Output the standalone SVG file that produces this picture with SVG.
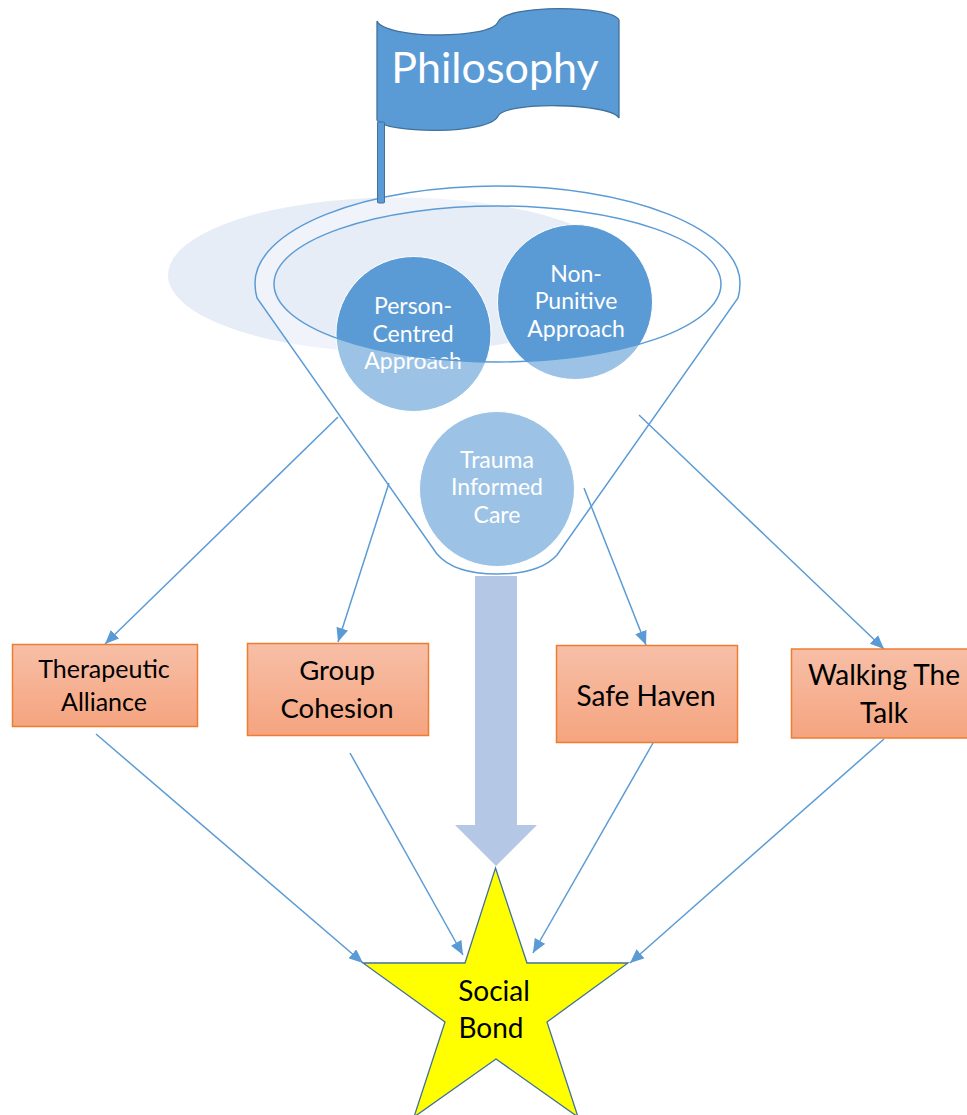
<svg xmlns="http://www.w3.org/2000/svg" width="967" height="1115" viewBox="0 0 967 1115">
<style>
text{font-family:"Lato","Noto Sans","Liberation Sans",sans-serif;text-anchor:middle}
.w{fill:#fff;font-size:23px}
.k{fill:#000;font-size:28px}
.c{fill:#5B9BD5;stroke:#fff;stroke-width:1}
.r{fill:url(#g);stroke:#ED7D31;stroke-width:1.500}
.l{fill:none;stroke:#5B9BD5;stroke-width:1.500;marker-end:url(#a)}
</style>
<defs>
<linearGradient id="g" x1="0" y1="0" x2="0" y2="1"><stop offset="0" stop-color="#F7BFA7"/><stop offset="1" stop-color="#F5A47F"/></linearGradient>
<marker id="a" viewBox="0 0 14 12" refX="14" refY="6" markerUnits="userSpaceOnUse" markerWidth="14" markerHeight="12" orient="auto"><path d="M0 0L14 6L0 12Z" fill="#5B9BD5"/></marker>
</defs>
<ellipse id="backdrop" cx="398" cy="275" rx="230" ry="77.500" fill="#E7EDF7"/>
<g id="person-centred"><circle class="c" cx="413.500" cy="334" r="77.500"/><text class="w" x="413" y="314">Person-</text><text class="w" x="413" y="342">Centred</text><text class="w" x="413" y="369">Approach</text></g>
<g id="non-punitive"><circle class="c" cx="575" cy="302" r="77.500"/><text class="w" x="576" y="282">Non-</text><text class="w" x="576" y="309">Punitive</text><text class="w" x="576" y="337">Approach</text></g>
<g id="trauma"><circle class="c" cx="497" cy="489" r="77.500"/><text class="w" x="497" y="468">Trauma</text><text class="w" x="497" y="495">Informed</text><text class="w" x="497" y="523">Care</text></g>
<g id="funnel"><path fill-rule="evenodd" fill="#fff" fill-opacity=".4" stroke="#5B9BD5" stroke-width="1.500" d="M257 298Q255 291 255 283A242.500 97 0 0 1 740 283Q740 291 738 298L557 555Q540 574 497 574Q454 574 437 554ZM274 284A223.500 78 0 0 0 721 284A223.500 78 0 0 0 274 284Z"/></g>
<g id="philosophy"><path d="M377 21C385 39 490 40 498 22C506 4 611 5 619 20V118C611 103 506 101 498 116C490 135 385 134 377 120Z" fill="#5B9BD5" stroke="#41719C" stroke-width="1.300"/><rect x="377.500" y="122" width="7" height="81" rx="1" fill="#5B9BD5" stroke="#41719C"/><text x="495" y="83" fill="#fff" font-size="43">Philosophy</text></g>
<g id="connectors">
<path class="l" d="M338 417L105 644"/>
<path class="l" d="M389 483L338 642"/>
<path class="l" d="M584 488L646 645"/>
<path class="l" d="M639 415L884 649"/>
<path class="l" d="M96 734L363 963"/>
<path class="l" d="M350 753L463 955"/>
<path class="l" d="M653 743L533 953"/>
<path class="l" d="M884 739L630 963"/>
</g>
<path id="flow-arrow" d="M475 576H517V825H537L496 866L455 825H475Z" fill="#B4C8E6"/>
<g id="therapeutic"><rect class="r" x="12.500" y="644.500" width="185" height="82"/><text class="k" x="104" y="678" style="font-size:25px">Therapeutic</text><text class="k" x="104" y="711" style="font-size:25px">Alliance</text></g>
<g id="group-cohesion"><rect class="r" x="247.500" y="643.500" width="181" height="92"/><text class="k" x="337" y="680" style="font-size:27.500px">Group</text><text class="k" x="337" y="718" style="font-size:27.500px">Cohesion</text></g>
<g id="safe-haven"><rect class="r" x="556.500" y="645.500" width="181" height="97"/><text class="k" x="646" y="706">Safe Haven</text></g>
<g id="walking"><rect class="r" x="791.500" y="649" width="180" height="89"/><text class="k" x="884" y="685">Walking The</text><text class="k" x="884" y="723">Talk</text></g>
<g id="social-bond"><path d="M495.500 868L527 963H628L547 1022L578 1117L496 1059L414 1117L445 1022L363 963H465Z" fill="#FF0" stroke="#41719C" stroke-width="1.300"/><text class="k" x="494" y="1001">Social</text><text class="k" x="491" y="1038">Bond</text></g>
</svg>
